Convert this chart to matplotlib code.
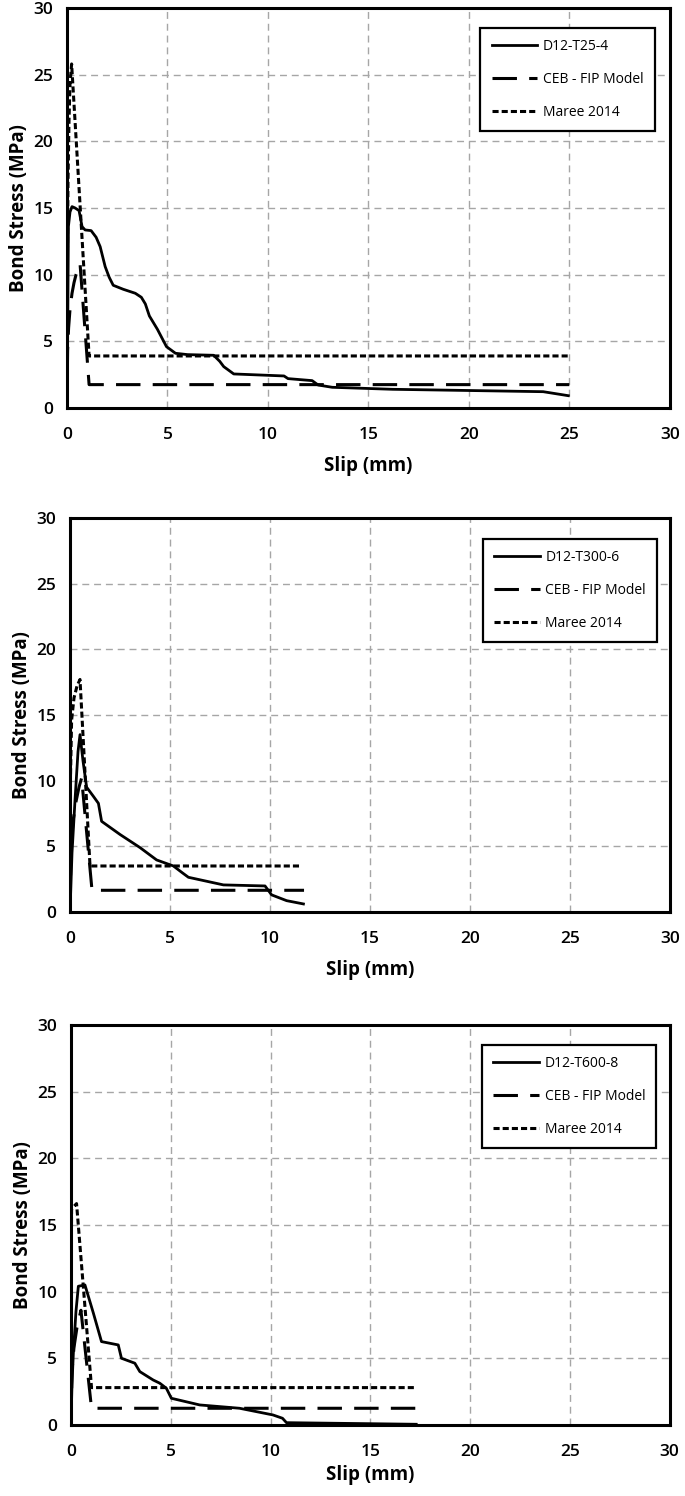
import matplotlib
matplotlib.use("Agg")
import matplotlib.pyplot as plt

plt.rcParams['font.family'] = ['Open Sans', 'DejaVu Sans']

# ---- datos ----
# panel 1: D12-T25-4
p1_label = "D12-T25-4"
p1_test_x = [0, 0.03, 0.07, 0.15, 0.25, 0.4, 0.6, 0.75, 0.9, 1.2, 1.45, 1.65, 1.9, 2.1, 2.3, 2.8, 3.4,
             3.7, 3.9, 4.1, 4.5, 4.95, 5.4, 6.0, 7.3, 7.6, 7.8, 8.3, 10.8, 11.0, 12.2, 12.5, 13.2, 16.2,
             23.7, 24.95]
p1_test_y = [0, 5, 13.6, 14.7, 15.1, 15.0, 14.8, 13.6, 13.35, 13.3, 12.8, 12.1, 10.6, 9.8, 9.2, 8.9, 8.6,
             8.3, 7.8, 6.9, 5.9, 4.6, 4.1, 4.0, 3.95, 3.5, 3.1, 2.55, 2.4, 2.2, 2.05, 1.72, 1.55, 1.4,
             1.22, 0.92]
p1_ceb_x = [0, 0.03, 0.08, 0.15, 0.25, 0.35, 0.45, 0.55, 0.65, 1.1, 25]
p1_ceb_y = [0, 4.3, 6.0, 7.4, 8.6, 9.4, 10.0, 10.4, 10.8, 1.75, 1.75]
p1_maree_x = [0, 0.02, 0.05, 0.1, 0.15, 0.23, 1.1, 25]
p1_maree_y = [0, 11, 17, 21.5, 24.3, 25.8, 3.9, 3.9]

# panel 2: D12-T300-6
p2_label = "D12-T300-6"
p2_test_x = [0, 0.1, 0.25, 0.4, 0.5, 0.65, 0.83, 1.17, 1.42, 1.58, 2.5, 3.5, 4.33, 5.17, 5.6, 5.92,
             7.67, 9.75, 10.08, 10.83, 11.67]
p2_test_y = [0, 4.5, 8.5, 12.2, 13.5, 11.5, 9.5, 8.8, 8.27, 6.9, 5.9, 4.9, 3.96, 3.5, 3.0, 2.64,
             2.06, 1.98, 1.3, 0.86, 0.61]
p2_ceb_x = [0, 0.05, 0.15, 0.3, 0.45, 0.58, 1.1, 11.7]
p2_ceb_y = [0, 4.8, 6.9, 8.4, 9.5, 10.2, 1.65, 1.65]
p2_maree_x = [0, 0.02, 0.08, 0.2, 0.35, 0.5, 1.0, 11.6]
p2_maree_y = [0, 10, 14.6, 16.3, 17.2, 17.7, 3.5, 3.5]

# panel 3: D12-T600-8
p3_label = "D12-T600-8"
p3_test_x = [0, 0.05, 0.12, 0.25, 0.37, 0.7, 1.12, 1.53, 2.37, 2.53, 3.2, 3.45, 4.12, 4.45, 4.78,
             5.03, 6.45, 8.45, 10.12, 10.6, 10.8, 17.3]
p3_test_y = [0, 3, 5.4, 8.5, 10.4, 10.5, 8.4, 6.25, 6.0, 5.0, 4.63, 4.0, 3.37, 3.13, 2.75,
             2.0, 1.5, 1.25, 0.75, 0.5, 0.17, 0.05]
p3_ceb_x = [0, 0.05, 0.15, 0.3, 0.5, 1.03, 17.35]
p3_ceb_y = [0, 4.0, 5.8, 7.3, 8.6, 1.25, 1.25]
p3_maree_x = [0, 0.01, 0.03, 0.28, 1.03, 17.3]
p3_maree_y = [0, 10, 16.2, 16.6, 2.8, 2.8]

ticks = [0, 5, 10, 15, 20, 25, 30]


def dibujar_panel(ax, etiqueta, tx, ty, cx, cy, mx, my, leg_xy, xpad):
    # curvas: ensayo, modelo CEB-FIP y modelo Maree 2014
    ax.plot(tx, ty, color='black', lw=2.0, label=etiqueta, zorder=4)
    ax.plot(cx, cy, color='black', lw=2.2, linestyle=(0, (8, 4)), label="CEB - FIP Model", zorder=3)
    ax.plot(mx, my, color='black', lw=2.2, linestyle=(0, (2, 1)), label="Maree 2014", zorder=3)
    ax.set_xlim(0, 30)
    ax.set_ylim(0, 30)
    ax.set_xticks(ticks)
    ax.set_yticks(ticks)
    ax.grid(True, color='#a6a6a6', lw=1.0, linestyle=(0, (5, 3.5)))
    ax.set_axisbelow(True)
    for s in ax.spines.values():
        s.set_linewidth(2.2)
        s.set_color('black')
    ax.tick_params(axis='x', length=0, pad=14, labelsize=12.5)
    ax.tick_params(axis='y', length=0, pad=10, labelsize=12.5)
    for lab in ax.get_xticklabels() + ax.get_yticklabels():
        lab.set_fontweight('semibold')
    ax.set_xlabel("Slip (mm)", fontsize=13.5, fontweight='bold', labelpad=xpad)
    ax.set_ylabel("Bond Stress (MPa)", fontsize=13.5, fontweight='bold', labelpad=3)
    leg = ax.legend(loc='upper right', bbox_to_anchor=leg_xy, fontsize=10, frameon=True,
                    fancybox=False, framealpha=1, edgecolor='black', handlelength=3.3,
                    handletextpad=0.4, labelspacing=1.3, borderpad=0.8, borderaxespad=0)
    leg.get_frame().set_linewidth(1.6)


fig = plt.figure(figsize=(6.85, 14.96), dpi=100)
ax1 = fig.add_axes([0.0978, 0.7273, 0.880, 0.2674])
ax2 = fig.add_axes([0.1022, 0.3904, 0.876, 0.2634])
ax3 = fig.add_axes([0.1036, 0.0475, 0.874, 0.2674])

dibujar_panel(ax1, p1_label, p1_test_x, p1_test_y, p1_ceb_x, p1_ceb_y, p1_maree_x, p1_maree_y, (0.975, 0.95), 9)
dibujar_panel(ax2, p2_label, p2_test_x, p2_test_y, p2_ceb_x, p2_ceb_y, p2_maree_x, p2_maree_y, (0.978, 0.947), 9)
dibujar_panel(ax3, p3_label, p3_test_x, p3_test_y, p3_ceb_x, p3_ceb_y, p3_maree_x, p3_maree_y, (0.978, 0.95), 3)

fig.savefig("out.png", dpi=100)
plt.close(fig)
